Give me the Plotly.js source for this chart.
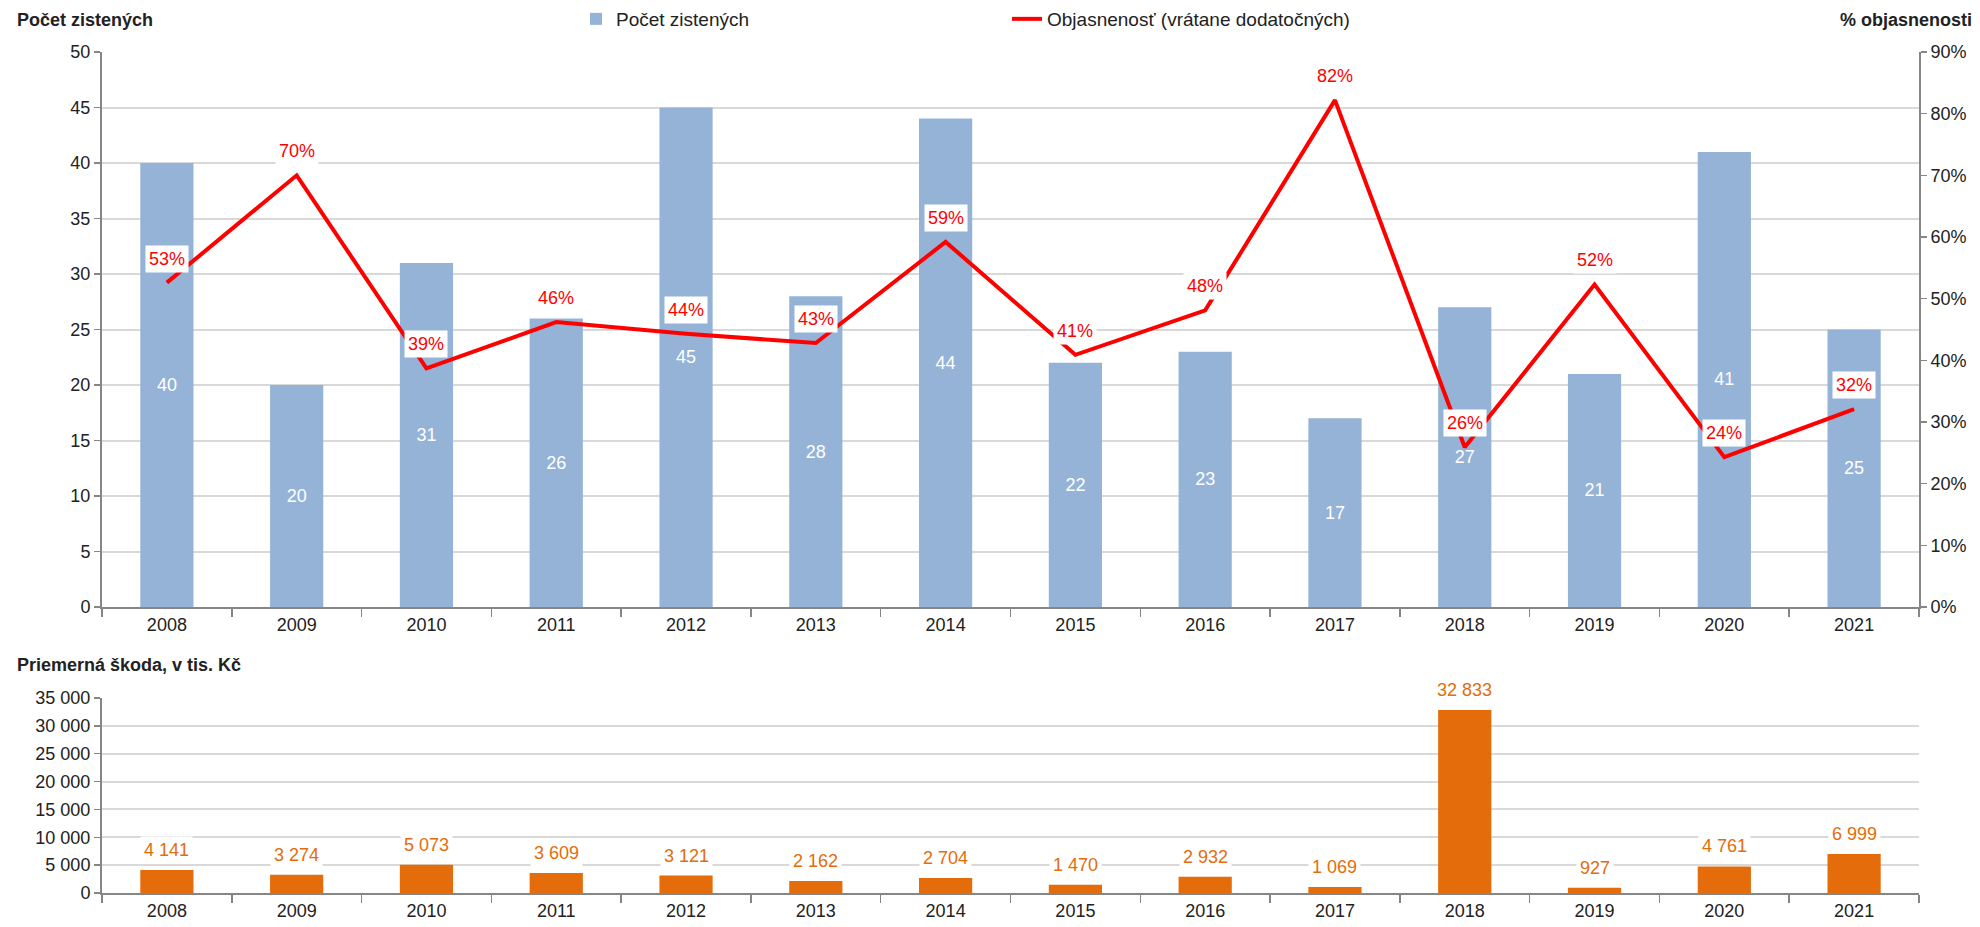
<!DOCTYPE html>
<html>
<head>
<meta charset="utf-8">
<script src="https://cdn.plot.ly/plotly-3.0.1.min.js"></script>
<style>
html,body{margin:0;padding:0;background:#fff;}
#chart{width:1980px;height:927px;}
</style>
</head>
<body>
<div id="chart"></div>
<script>
const years = ['2008','2009','2010','2011','2012','2013','2014','2015','2016','2017','2018','2019','2020','2021'];
const countValues = [40,20,31,26,45,28,44,22,23,17,27,21,41,25];
const clearanceRate = [0.526,0.70,0.387,0.462,0.443,0.428,0.592,0.409,0.481,0.822,0.259,0.523,0.243,0.321];
const avgDamage = [4141,3274,5073,3609,3121,2162,2704,1470,2932,1069,32833,927,4761,6999];

const FONT = '"Liberation Sans Narrow", "Liberation Sans", Arial, sans-serif';
const W = 1980, H = 927;
const px = v => v / W;
const py = v => 1 - v / H;

const blue = '#95B3D7', red = '#FF0000', orange = '#E46C0A';
const grid = '#D9D9D9', axisCol = '#868686', txt = '#222222';

const traces = [
  {
    type: 'bar', name: 'Počet zistených', x: years, y: countValues,
    xaxis: 'x', yaxis: 'y',
    marker: {color: blue},
    text: countValues.map(String), textposition: 'inside', insidetextanchor: 'middle',
    textfont: {color: '#ffffff', size: 18, family: FONT},
    hoverinfo: 'x+y'
  },
  {
    type: 'scatter', mode: 'lines', name: 'Objasnenosť (vrátane dodatočných)',
    x: years, y: clearanceRate, xaxis: 'x', yaxis: 'y2',
    line: {color: red, width: 4}
  },
  {
    type: 'bar', name: 'Priemerná škoda', x: years, y: avgDamage,
    xaxis: 'x2', yaxis: 'y3', marker: {color: orange}, showlegend: false
  }
];

const annotations = [];
years.forEach((yr, i) => {
  annotations.push({
    xref: 'x', yref: 'y2', x: i, y: clearanceRate[i],
    text: Math.round(clearanceRate[i] * 100) + '%',
    showarrow: false, yshift: 24, yanchor: 'middle',
    bgcolor: '#ffffff', borderpad: 3,
    font: {color: red, size: 18, family: FONT}
  });
  annotations.push({
    xref: 'x2', yref: 'y3', x: i, y: avgDamage[i],
    text: avgDamage[i].toLocaleString('en-US').replace(/,/g, ' '),
    showarrow: false, yshift: 20, yanchor: 'middle',
    bgcolor: '#ffffff', borderpad: 3,
    font: {color: orange, size: 18, family: FONT}
  });
});

annotations.push({
  xref: 'paper', yref: 'paper', x: px(15), y: py(20), xanchor: 'left', yanchor: 'middle',
  text: '<b>Počet zistených</b>', showarrow: false, font: {size: 18, family: FONT, color: txt}
});
annotations.push({
  xref: 'paper', yref: 'paper', x: px(1974), y: py(20), xanchor: 'right', yanchor: 'middle',
  text: '<b>% objasnenosti</b>', showarrow: false, font: {size: 18, family: FONT, color: txt}
});
annotations.push({
  xref: 'paper', yref: 'paper', x: px(15), y: py(665), xanchor: 'left', yanchor: 'middle',
  text: '<b>Priemerná škoda, v tis. Kč</b>', showarrow: false, font: {size: 18, family: FONT, color: txt}
});

const xdom = [px(102), px(1919)];
const baseX = {
  type: 'category', showgrid: false, showline: true, linecolor: axisCol, linewidth: 2,
  ticks: 'outside', tickson: 'boundaries', ticklen: 8, tickcolor: axisCol, tickwidth: 1.5,
  tickfont: {size: 18, family: FONT, color: txt}, fixedrange: true,
  range: [-0.5, years.length - 0.5], autorange: false, tickangle: 0
};
const baseY = {
  showgrid: true, gridcolor: grid, gridwidth: 2, showline: true, linecolor: axisCol, linewidth: 2,
  ticks: 'outside', ticklen: 6, tickcolor: axisCol, tickwidth: 1.5, zeroline: false,
  tickfont: {size: 18, family: FONT, color: txt}, fixedrange: true
};

const layout = {
  width: W, height: H,
  margin: {l: 0, r: 0, t: 0, b: 0},
  paper_bgcolor: '#ffffff', plot_bgcolor: '#ffffff',
  separators: ', ',
  font: {family: FONT, size: 18, color: txt},
  bargap: 0.59,
  showlegend: true,
  legend: {
    orientation: 'h', x: px(576), y: py(19), xanchor: 'left', yanchor: 'middle',
    entrywidth: 386, entrywidthmode: 'pixels',
    font: {size: 19, family: FONT, color: txt}, bgcolor: 'rgba(0,0,0,0)'
  },
  xaxis: Object.assign({}, baseX, {domain: xdom, anchor: 'y'}),
  yaxis: Object.assign({}, baseY, {domain: [py(607), py(52)], range: [0, 50], dtick: 5, anchor: 'x'}),
  yaxis2: Object.assign({}, baseY, {overlaying: 'y', side: 'right', range: [0, 0.9], dtick: 0.1,
    tickformat: '.0%', showgrid: false, anchor: 'x'}),
  xaxis2: Object.assign({}, baseX, {domain: xdom, anchor: 'y3'}),
  yaxis3: Object.assign({}, baseY, {domain: [py(893), py(698)], range: [0, 35000], dtick: 5000,
    tickformat: ',d', anchor: 'x2'}),
  annotations: annotations
};

Plotly.newPlot('chart', traces, layout, {displayModeBar: false, staticPlot: true});
</script>
</body>
</html>
